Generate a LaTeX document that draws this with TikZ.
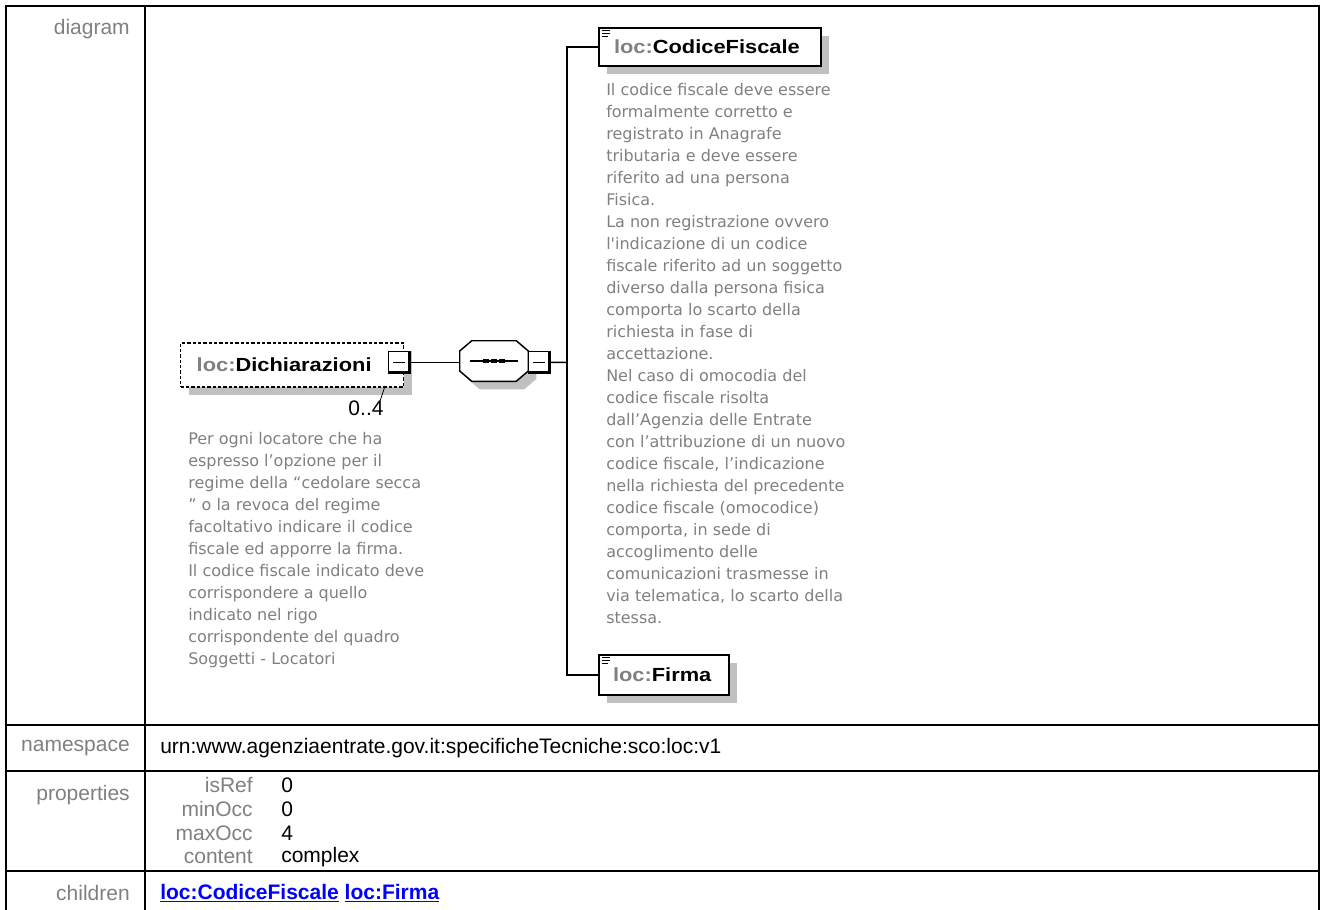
\documentclass[tikz,border=0pt]{standalone}
\usepackage{fontspec}
\setmainfont{Liberation Sans}
\newfontfamily\docfam[Ligatures=TeXOff]{DejaVu Sans}
\newfontfamily\elemfam[FakeStretch=1.15]{Liberation Sans}
\usetikzlibrary{positioning, calc, shadows}
\definecolor{lblgrey}{HTML}{808080}
\definecolor{shadowgrey}{HTML}{C0C0C0}
\definecolor{linkblue}{HTML}{0000FF}
\newcommand\tablefont{\fontsize{15.75}{18}\selectfont}
\newcommand\elemfont{\elemfam\bfseries\fontsize{14.25}{16}\selectfont}
\newcommand\docfont{\docfam\fontsize{12}{16.5}\selectfont}
\newcommand\octpath[1]{($(#1.west)+(0,-10)$) -- ($(#1.north west)+(12,0)$) -- ($(#1.north east)+(-12,0)$) -- ($(#1.east)+(0,-10)$)
  -- ($(#1.east)+(0,10)$) -- ($(#1.south east)+(-12,0)$) -- ($(#1.south west)+(12,0)$) -- ($(#1.west)+(0,10)$) -- cycle}

\begin{document}
\begin{tikzpicture}[x=0.75pt, y=-0.75pt,
    grid/.style={line width=1.5pt},
    lbl/.style={anchor=east, inner sep=0pt, text=lblgrey, font=\tablefont},
    val/.style={anchor=west, inner sep=0pt, font=\tablefont},
    conn/.style={line width=1.1pt},
    shade/.style={drop shadow={shadow xshift=6pt, shadow yshift=-6pt, opacity=1, fill=shadowgrey}},
    elem/.style={draw, line width=1.5pt, fill=white, shade, inner ysep=0pt, align=left, font=\elemfont,
      path picture={
        \foreach \dy/\len in {2.2/6, 4.2/6, 6.2/5}
          \draw[line width=0.7pt] ([shift={(2pt,-\dy pt)}]path picture bounding box.north west) -- ++(\len pt,0pt);
      }},
    optbox/.style={draw, line width=1.1pt, dash pattern=on 2.5pt off 1.5pt, fill=white, shade, inner ysep=0pt, align=left, font=\elemfont},
    minusbox/.style={draw, line width=0.8pt, fill=white, minimum size=16pt, inner sep=0pt,
      path picture={
        \draw[line width=1pt] ([xshift=3.5pt]path picture bounding box.west) -- ([xshift=-3.5pt]path picture bounding box.east);
        \draw[line width=2.6pt] (path picture bounding box.north east) -- (path picture bounding box.south east) -- (path picture bounding box.south west);
      }},
    seqbox/.style={minimum width=51pt, minimum height=30pt, inner sep=0pt},
    doc/.style={anchor=north west, inner sep=0pt, align=left, text=lblgrey, font=\docfont}
  ]
  \useasboundingbox (0,0) rectangle (1322,910);

  % table
  \draw[grid] (6,6) rectangle (1319,916);
  \draw[grid] (145,6) -- (145,916);
  \foreach \yy in {725,771,871}
    \draw[grid] (6,\yy) -- (1319,\yy);

  \node[lbl] (diaglbl) at (130,29) {diagram};
  \node[lbl] (nslbl) at (130,748) {namespace};
  \node[val] (nsval) at (160,748) {urn:www.agenziaentrate.gov.it:specificheTecniche:sco:loc:v1};
  \node[lbl] (proplbl) at (130,795) {properties};
  \foreach \pname/\pval/\yy in {isRef/0/785, minOcc/0/809, maxOcc/4/833, content/complex/857} {
    \node[lbl] (p-\pname) at (253,\yy) {\pname};
    \node[val] (v-\pname) at (281,\yy) {\pval};
  }
  \node[lbl] (chlbl) at (130,893) {children};
  \node[val, font=\tablefont\bfseries, text=linkblue] (chval) at (160,893) {\underline{loc:CodiceFiscale} \underline{loc:Firma}};

  % diagram
  \node[optbox, anchor=west, minimum width=167.25pt, minimum height=33pt, inner xsep=12pt, text width=143.25pt] (dich) at (180,365)
    {\textcolor{lblgrey}{loc:}Dichiarazioni};
  \node[minusbox, xshift=-3.75pt, yshift=2pt] (dminus) at (dich.east) {};
  \node[val, anchor=center] (occ) at (366,408) {0..4};
  \draw[line width=0.6pt] ([shift={(-3pt,-1pt)}]occ.north east) -- ([xshift=-15pt]dich.south east);
  \node[doc] (dichdoc) at (188,432) {Per ogni locatore che ha\\espresso l’opzione per il\\regime della “cedolare secca\\” o la revoca del regime\\facoltativo indicare il codice\\fiscale ed apporre la firma.\\Il codice fiscale indicato deve\\corrispondere a quello\\indicato nel rigo\\corrispondente del quadro\\Soggetti - Locatori};

  \node[seqbox] (seq) at (494,361) {};
  \fill[shadowgrey, transform canvas={xshift=6pt, yshift=-6pt}] \octpath{seq};
  \filldraw[conn, fill=white] \octpath{seq};
  \draw[line width=0.8pt] ([xshift=7.5pt]seq.west) -- ([xshift=-7.5pt]seq.east);
  \foreach \dx in {-5.8,0,5.8}
    \fill ([xshift=\dx pt]seq.center) +(-2.4pt,-1.4pt) rectangle +(2.4pt,1.4pt);
  \node[minusbox, right=0pt of seq, yshift=-1pt] (sminus) {};
  \coordinate (bus) at (567,362.5);

  \node[elem, anchor=west, minimum width=166.5pt, minimum height=28.5pt, inner xsep=11.25pt, text width=144pt] (cf) at (598,47)
    {\textcolor{lblgrey}{loc:}CodiceFiscale};
  \node[doc] (cfdoc) at (606,83) {Il codice fiscale deve essere\\formalmente corretto e\\registrato in Anagrafe\\tributaria e deve essere\\riferito ad una persona\\Fisica.\\La non registrazione ovvero\\l'indicazione di un codice\\fiscale riferito ad un soggetto\\diverso dalla persona fisica\\comporta lo scarto della\\richiesta in fase di\\accettazione.\\Nel caso di omocodia del\\codice fiscale risolta\\dall’Agenzia delle Entrate\\con l’attribuzione di un nuovo\\codice fiscale, l’indicazione\\nella richiesta del precedente\\codice fiscale (omocodice)\\comporta, in sede di\\accoglimento delle\\comunicazioni trasmesse in\\via telematica, lo scarto della\\stessa.};
  \node[elem, anchor=west, minimum width=97.5pt, minimum height=30pt, inner xsep=10.5pt, text width=76.5pt] (firma) at (598,675)
    {\textcolor{lblgrey}{loc:}Firma};

  \draw[conn] (dminus.east) -- (dminus.east -| seq.west);
  \draw[conn] (sminus.east) -- (bus);
  \draw[conn] (cf.west) -| (bus) |- (firma.west);
\end{tikzpicture}
\end{document}
